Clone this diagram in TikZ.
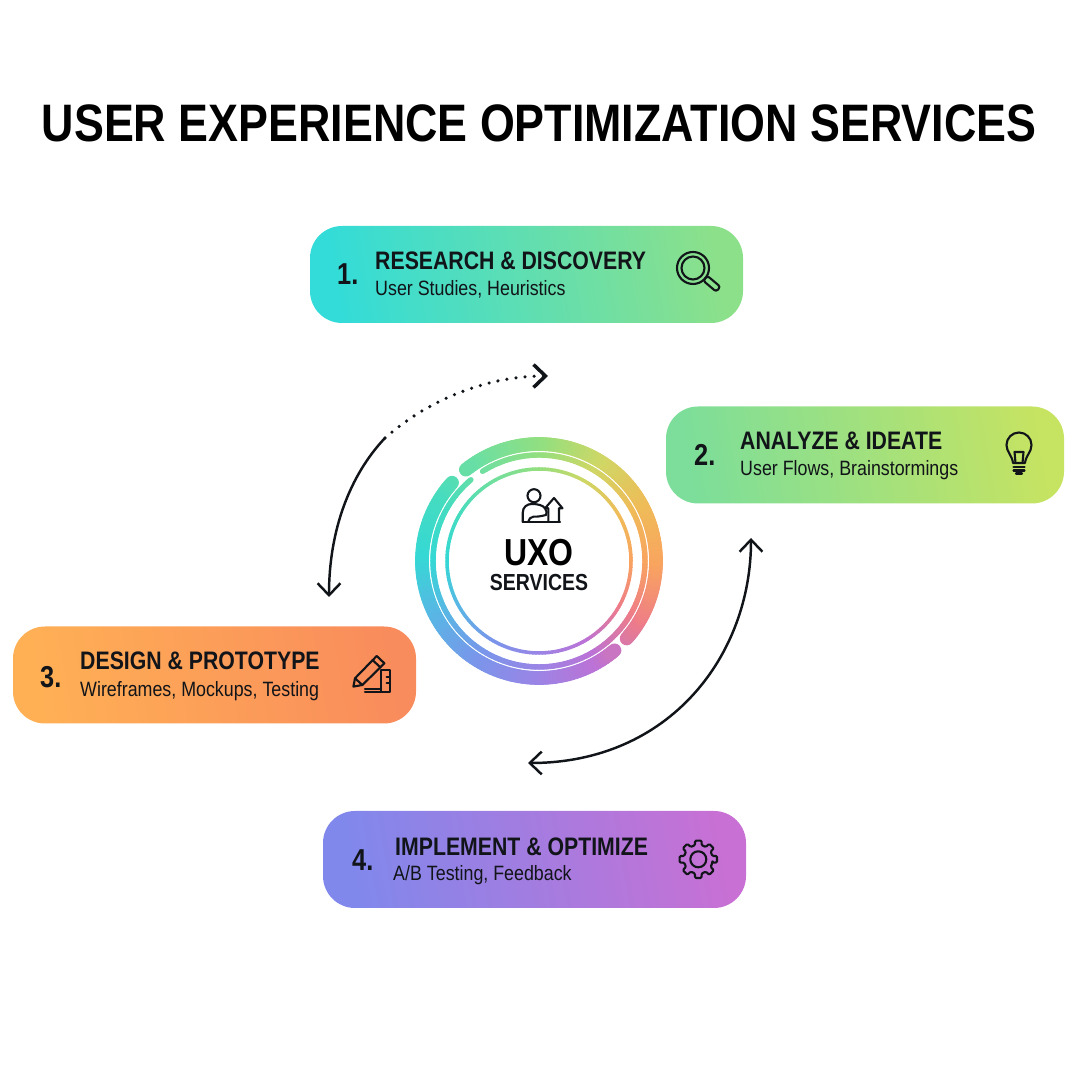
\documentclass[tikz,border=0pt]{standalone}
\usepackage{fontspec}
\setmainfont{Liberation Sans}
\newfontfamily\titlefont[FakeStretch=0.85]{Liberation Sans}
\newfontfamily\labelfont[FakeStretch=0.84]{Liberation Sans}
\newfontfamily\subfont[FakeStretch=0.86]{Liberation Sans}
\usetikzlibrary{arrows.meta}
\definecolor{ring0}{HTML}{F9A45F}
\definecolor{ring1}{HTML}{EFBC58}
\definecolor{ring2}{HTML}{CFD765}
\definecolor{ring3}{HTML}{93DF7F}
\definecolor{ring4}{HTML}{70DF9F}
\definecolor{ring5}{HTML}{45DCC0}
\definecolor{ring6}{HTML}{35D8D5}
\definecolor{ring7}{HTML}{5AB5E5}
\definecolor{ring8}{HTML}{7A95EA}
\definecolor{ring9}{HTML}{9A85E6}
\definecolor{ring10}{HTML}{BC72D6}
\definecolor{ring11}{HTML}{EE7C88}
\definecolor{inkcol}{HTML}{111418}
\definecolor{researchl}{HTML}{33DCD8}
\definecolor{researchr}{HTML}{8CE08A}
\definecolor{analyzel}{HTML}{7CDE9A}
\definecolor{analyzer}{HTML}{C6E362}
\definecolor{designl}{HTML}{FFB055}
\definecolor{designr}{HTML}{F98C5C}
\definecolor{implementl}{HTML}{8088EC}
\definecolor{implementr}{HTML}{C870D4}

\begin{document}
\begin{tikzpicture}[line width=0.7pt,>={Straight Barb[length=3.4pt,width=6.5pt]},
  card/.style={rounded corners=0.32cm,minimum height=0.97cm,inner sep=0pt},
  headtext/.style={anchor=base west,inner sep=0pt,text=inkcol,font=\labelfont\bfseries\fontsize{7.2}{8}\selectfont},
  subtext/.style={anchor=base west,inner sep=0pt,text=inkcol,font=\subfont\fontsize{5.9}{7}\selectfont},
  numtext/.style={anchor=base west,inner sep=0pt,text=inkcol,font=\labelfont\bfseries\fontsize{8.6}{10}\selectfont},
  iconline/.style={draw=inkcol,line width=0.6pt,line join=round,line cap=round}]
\useasboundingbox (0,0) rectangle (10.8,10.8);
% ring piece, #1 = radius, #2 = from angle, #3 = to angle, #4 = width
\newcommand{\ringarc}[4]{
  \pgfmathsetmacro{\nxa}{#2+2}
  \foreach \a in {#2,\nxa,...,#3}{
    \pgfmathsetmacro{\wa}{mod(\a+720,360)}
    \pgfmathtruncatemacro{\ia}{floor(\wa/30)}
    \pgfmathtruncatemacro{\ib}{mod(\ia+1,12)}
    \pgfmathtruncatemacro{\pc}{100-(\wa-30*\ia)/30*100}
    \draw[line width=#4,line cap=round,color=ring\ia!\pc!ring\ib] (5.39,5.19) ++(\a:#1) arc [start angle=\a,delta angle=2.2,radius=#1];
  }
}
\node[anchor=base,inner sep=0pt,text=black,font=\titlefont\bfseries\fontsize{15}{18}\selectfont] (title) at (5.39,9.38) {USER EXPERIENCE OPTIMIZATION SERVICES};
% ---------- cards ----------
\node[card,minimum width=4.33cm,left color=researchl,right color=researchr,shading angle=100] (research) at (5.265,8.055) {};
\node[card,minimum width=3.98cm,left color=analyzel,right color=analyzer,shading angle=100] (analyze) at (8.65,6.25) {};
\node[card,minimum width=4.03cm,left color=designl,right color=designr,shading angle=100] (design) at (2.145,4.05) {};
\node[card,minimum width=4.23cm,left color=implementl,right color=implementr,shading angle=100] (implement) at (5.345,2.205) {};
% ---------- card texts ----------
\node[numtext] (num1) at (3.36,7.95) {1.};
\node[headtext] (head1) at (3.74,8.10) {RESEARCH \& DISCOVERY};
\node[subtext] (sub1) at (3.74,7.84) {User Studies, Heuristics};
\node[numtext] (num2) at (6.93,6.14) {2.};
\node[headtext] (head2) at (7.39,6.30) {ANALYZE \& IDEATE};
\node[subtext] (sub2) at (7.39,6.04) {User Flows, Brainstormings};
\node[numtext] (num3) at (0.39,3.92) {3.};
\node[headtext] (head3) at (0.79,4.10) {DESIGN \& PROTOTYPE};
\node[subtext] (sub3) at (0.79,3.83) {Wireframes, Mockups, Testing};
\node[numtext] (num4) at (3.51,2.09) {4.};
\node[headtext] (head4) at (3.94,2.24) {IMPLEMENT \& OPTIMIZE};
\node[subtext] (sub4) at (3.92,1.99) {A/B Testing, Feedback};
% ---------- centre ring ----------
\ringarc{1.17}{-41.5}{126.6}{3.9pt}
\ringarc{1.17}{138}{309}{3.9pt}
\ringarc{1.06}{130}{480}{1.55pt}
\ringarc{0.92}{0}{360}{1pt}
\node[anchor=base,inner sep=0pt,text=black,font=\titlefont\bfseries\fontsize{10.7}{12}\selectfont] (uxo) at (5.39,5.14) {UXO};
\node[anchor=base,inner sep=0pt,text=inkcol,font=\labelfont\bfseries\fontsize{6.6}{8}\selectfont] (services) at (5.39,4.89) {SERVICES};
% centre icon
\begin{scope}[shift={(5.40,5.70)}]
\draw[iconline] (-.06,.143) circle (.065);
\draw[iconline] (-.173,-.117) -- (.2,-.117);
\draw[iconline] (-.173,-.117) -- (-.173,-.03) .. controls (-.173,.03) and (-.13,.06) .. (-.083,.06) .. controls (-.03,.06) and (.03,.05) .. (.05,.017) .. controls (.07,-.01) and (.07,-.03) .. (.06,-.05) .. controls (.02,-.06) and (-.03,-.07) .. (-.067,-.067) .. controls (-.09,-.07) and (-.117,-.09) .. (-.117,-.117);
\draw[iconline] (.083,-.117) -- (.083,.017) -- (.05,.017) -- (.14,.12) -- (.225,.017) -- (.19,.017) -- (.19,-.117);
\end{scope}
% ---------- icons ----------
% magnifier
\begin{scope}[shift={(6.93,8.12)}]
\draw[iconline] (0,0) circle (.16);
\draw[iconline] (0,0) circle (.115);
\draw[iconline,rounded corners=.025cm,rotate=-40] (.16,-.032) rectangle (.33,.032);
\end{scope}
% bulb
\begin{scope}[shift={(10.19,6.34)}]
\draw[iconline] (-.06,-.17) .. controls (-.07,-.09) and (-.125,-.06) .. (-.125,.01) arc [start angle=180,end angle=0,radius=.125] .. controls (.125,-.06) and (.07,-.09) .. (.06,-.17) -- cycle;
\draw[iconline] (-.035,-.17) -- (-.045,-.06) -- (.045,-.06) -- (.035,-.17);
\foreach \y in {-.21,-.245}{\draw[iconline] (-.055,\y) -- (.055,\y);}
\draw[iconline] (-.03,-.275) -- (.03,-.275);
\end{scope}
% pencil and ruler
\begin{scope}[shift={(3.717,4.067)}]
\draw[iconline] (-.183,-.133) -- (-.167,-.05) -- (.05,.173) -- (.127,.1) -- (-.093,-.117) -- cycle;
\draw[iconline] (.007,.133) -- (.087,.06);
\draw[iconline] (-.167,-.05) -- (-.093,-.117);
\draw[iconline] (.093,.033) rectangle (.183,-.183);
\draw[iconline] (-.067,-.153) -- (.093,-.153);
\draw[iconline] (-.067,-.183) -- (.093,-.183);
\foreach \y in {-.033,-.1}{\draw[iconline] (.15,\y) -- (.183,\y);}
\end{scope}
% gear
\begin{scope}[shift={(6.983,2.207)}]
\draw[iconline,rounded corners=.012cm] (-13:.145) \foreach \a in {0,45,...,315}{ -- (\a-10:.19) -- (\a+10:.19) -- (\a+13:.145) -- (\a+32:.145) } -- cycle;
\draw[iconline] (0,0) circle (.08);
\end{scope}
% ---------- arrows ----------
\coordinate (arrow1a) at (5.48,7.04);
\coordinate (arrow1b) at (3.85,6.42);
\coordinate (arrow1c) at (3.29,4.83);
\coordinate (arrow2a) at (7.51,5.42);
\coordinate (arrow2b) at (5.28,3.17);
\draw[->,line cap=round,dash pattern=on 0pt off 2.6pt,line width=1pt,draw=inkcol] (arrow1b) .. controls (4.30,6.82) and (4.90,7.04) .. (arrow1a);
\draw[->,draw=inkcol] (arrow1b) .. controls (3.50,6.05) and (3.29,5.50) .. (arrow1c);
\draw[<->,draw=inkcol] (arrow2a) .. controls (7.51,4.25) and (6.70,3.17) .. (arrow2b);
\end{tikzpicture}
\end{document}
